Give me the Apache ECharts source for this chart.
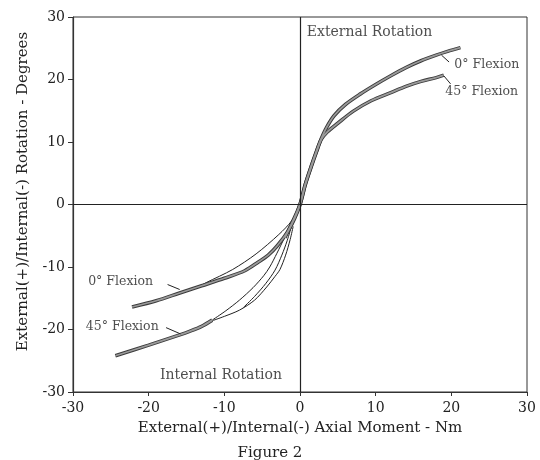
<!DOCTYPE html>
<html>
<head>
<meta charset="utf-8">
<script src="https://cdn.jsdelivr.net/npm/echarts@6/dist/echarts.min.js"></script>
<style>html,body{margin:0;padding:0;background:#fff}#c{width:540px;height:460px}</style>
</head>
<body>
<div id="c"></div>
<script>
// ---- data (x: axial moment Nm, y: rotation degrees) ----
const flex0Band = [[-22.2,-16.4],[-19,-15.4],[-16,-14.2],[-13,-13.0],[-10,-11.8],[-7.3,-10.6],[-5.5,-9.2],[-4.2,-8.1],[-3,-6.6],[-1.6,-4.3],[-0.7,-2.2],[0,0],[0.7,3.2],[1.5,6.2],[2.2,8.6],[2.8,10.5],[3.5,12.3],[4.5,14.2],[6,16.0],[8,17.7],[10,19.2],[12,20.6],[14,21.9],[16,23],[18,23.9],[19.5,24.5],[21.2,25.1]];
const flex0Thin = [[-13.5,-13.2],[-12.4,-12.5],[-8.9,-10.4],[-5.8,-7.9],[-2.8,-4.8],[-1.1,-2.6],[0,0]];
const flex45BandLeft = [[-24.4,-24.2],[-20,-22.5],[-16,-20.9],[-14.6,-20.3],[-13,-19.5],[-11.6,-18.5]];
const flex45UpperBranch = [[-11.6,-18.5],[-9.8,-17],[-8,-15.3],[-6.2,-13.3],[-4.8,-11.4],[-4.0,-10],[-3.05,-7.8],[-2,-5.2],[-1.2,-3.2]];
const flex45MiddleBranch = [[-7.5,-16.5],[-6,-14.7],[-4.5,-12.6],[-3.3,-10.5],[-2.4,-8.1],[-1.7,-5.8],[-1.1,-3.4]];
const flex45LowerBranch = [[-11.6,-18.6],[-10,-17.9],[-8,-16.9],[-6,-15.3],[-4.4,-13.2],[-3.3,-11.5],[-2.65,-10.4],[-1.9,-8.1],[-1.3,-5.6],[-0.9,-3.5]];
const flex45BandRight = [[-2,-5.3],[-1,-2.8],[0,0],[0.7,3.2],[1.5,6.1],[2.2,8.5],[2.8,10.4],[3.6,11.6],[5,13.0],[7,14.9],[9.4,16.6],[12,17.9],[14,18.9],[16,19.7],[18,20.3],[19,20.7]];
const annotations = [
  {text:'External Rotation', x:0.9, y:27.6, big:true},
  {text:'Internal Rotation', x:-18.5, y:-27.4, big:true},
  {text:'0° Flexion', x:20.4, y:22.4},
  {text:'45° Flexion', x:19.2, y:18.0},
  {text:'0° Flexion', x:-28.0, y:-12.4},
  {text:'45° Flexion', x:-28.3, y:-19.6}
];
const leaders = [
  [[18.7,23.9],[19.7,22.8]],
  [[19.0,20.6],[19.9,19.3]],
  [[-17.5,-12.8],[-15.9,-13.6]],
  [[-17.7,-19.7],[-15.8,-20.7]]
];
const xTicks = {min:-30, max:30, step:10};
const yTicks = {min:-30, max:30, step:10};

const serif = '"DejaVu Serif","Liberation Serif",serif';
const ink = '#222';
const bandGray = '#9a9a9a';

function band(data, name) {
  return [
    {type:'line', name:name+' edge', data:data, smooth:0.3, showSymbol:false, silent:true,
     lineStyle:{color:'#3a3a3a', width:3.6}, z:3},
    {type:'line', name:name, data:data, smooth:0.3, showSymbol:false, silent:true,
     lineStyle:{color:bandGray, width:1.8}, z:4}
  ];
}
function thin(data, name) {
  return {type:'line', name:name, data:data, smooth:0.3, showSymbol:false, silent:true,
    lineStyle:{color:ink, width:1}, z:3};
}

const series = [
  {type:'line', name:'zero', data:[], silent:true,
   markLine:{silent:true, symbol:'none', label:{show:false},
     lineStyle:{color:ink, width:1.2, type:'solid'},
     data:[{xAxis:0},{yAxis:0}]}, z:2},
  thin(flex0Thin, '0° unloading'),
  thin(flex45UpperBranch, '45° branch A'),
  thin(flex45MiddleBranch, '45° branch C'),
  thin(flex45LowerBranch, '45° branch B'),
  ...band(flex0Band, '0° Flexion'),
  ...band(flex45BandLeft, '45° Flexion L'),
  ...band(flex45BandRight, '45° Flexion R'),
  {type:'scatter', name:'annotations', symbolSize:0, silent:true,
   data:annotations.map(a=>({value:[a.x,a.y], name:a.text,
     label:{fontSize:a.big?14:12.5}})),
   label:{show:true, position:'right', distance:0, formatter:p=>p.name,
     color:ink, fontFamily:serif, fontSize:13}, z:5}
];
leaders.forEach((l,i)=>series.push({type:'line', name:'leader'+i, data:l, showSymbol:false, silent:true,
  lineStyle:{color:ink, width:1}, z:5}));

const chart = echarts.init(document.getElementById('c'), null, {renderer:'canvas'});
chart.setOption({
  backgroundColor:'#fff',
  animation:false,
  title:{text:'Figure 2', left:'center', top:441,
    textStyle:{fontFamily:serif, fontSize:15, fontWeight:'normal', color:ink}},
  grid:{left:73, right:13, top:17, bottom:68, show:true, borderColor:'#333', borderWidth:1},
  xAxis:{type:'value', min:xTicks.min, max:xTicks.max, interval:xTicks.step,
    name:'External(+)/Internal(-) Axial Moment - Nm', nameLocation:'middle', nameGap:29,
    nameTextStyle:{fontFamily:serif, fontSize:15, color:ink},
    axisLine:{onZero:false, lineStyle:{color:'#333', width:1.2}},
    axisTick:{show:true, length:4, lineStyle:{color:'#333'}},
    axisLabel:{fontFamily:serif, fontSize:14, color:ink, margin:9},
    splitLine:{show:false}},
  yAxis:{type:'value', min:yTicks.min, max:yTicks.max, interval:yTicks.step,
    name:'External(+)/Internal(-) Rotation - Degrees', nameLocation:'middle', nameGap:42,
    nameTextStyle:{fontFamily:serif, fontSize:15, color:ink, padding:[0,0,0,26]},
    axisLine:{onZero:false, lineStyle:{color:'#333', width:1.2}},
    axisTick:{show:true, length:5, lineStyle:{color:'#333'}},
    axisLabel:{fontFamily:serif, fontSize:14, color:ink, margin:8},
    splitLine:{show:false}},
  series:series
});
</script>
</body>
</html>
